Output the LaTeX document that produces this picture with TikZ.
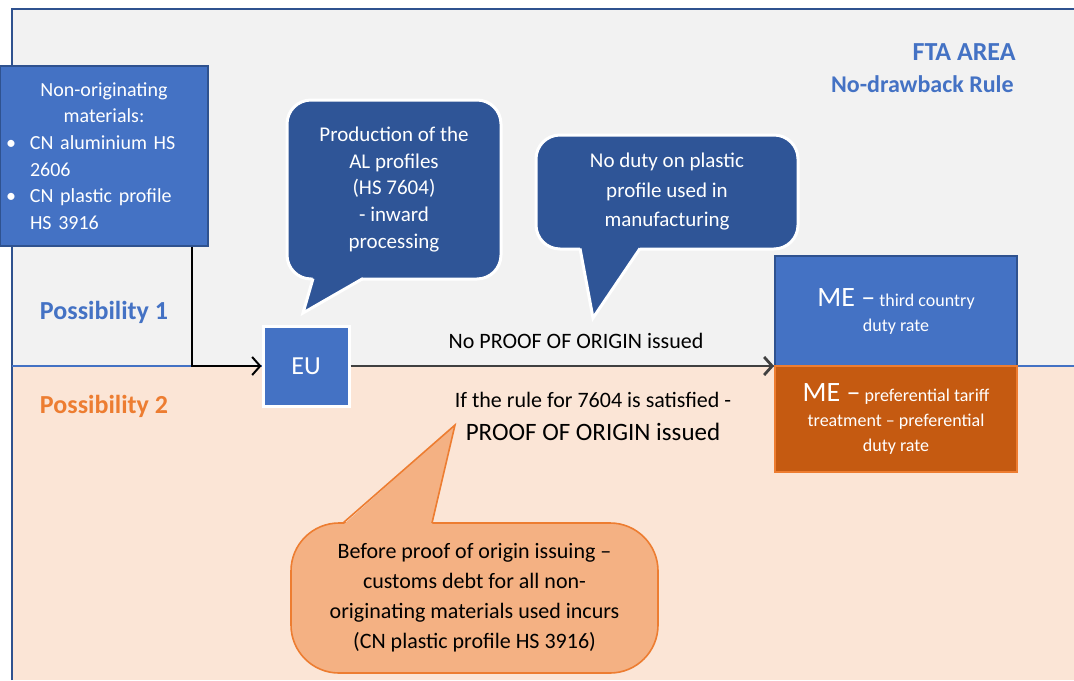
\documentclass[tikz,border=0pt]{standalone}
\usepackage{fontspec}
\setmainfont{Carlito}
\usetikzlibrary{arrows.meta,positioning}
\definecolor{boxblue}{HTML}{4472C4}
\definecolor{bubblue}{HTML}{2F5597}
\definecolor{edgeblue}{HTML}{2F528F}
\definecolor{greyarea}{HTML}{F2F2F2}
\definecolor{peach}{HTML}{FBE5D6}
\definecolor{rust}{HTML}{C55A11}
\definecolor{salmon}{HTML}{F4B183}
\definecolor{orangeline}{HTML}{ED7D31}
\tikzset{
	bluebox/.style={draw=edgeblue,fill=boxblue,text=white,line width=0.8pt,inner sep=3pt},
	bubble/.style={rounded corners=12pt,fill=bubblue,draw=white,line width=1.5pt,text=white,align=center,font=\fontsize{10.5}{13.3}\selectfont},
	possib/.style={font=\fontsize{13}{15}\selectfont\bfseries},
	small/.style={font=\fontsize{9}{12.5}\selectfont},
}
\newcommand{\bigME}{{\fontsize{14}{15}\selectfont ME --}}
\begin{document}
\begin{tikzpicture}[x=0.5pt,y=-0.5pt,>={Straight Barb[length=4pt,width=9pt]}]
	\useasboundingbox (0,0) rectangle (1074,680);
	\fill[greyarea] (12,9) rectangle (1074,366);
	\fill[peach] (12,366) rectangle (1074,680);
	\draw[edgeblue,line width=0.8pt] (12,680) -- (12,9) -- (1074,9);
	\draw[boxblue,line width=0.8pt] (12,366) -- (1074,366);
	% titles
	\node[possib,text=boxblue,anchor=east,inner sep=0pt] (fta) at (1016,52) {FTA AREA};
	\node[possib,font=\fontsize{12}{14}\selectfont\bfseries,text=boxblue,anchor=east,inner sep=0pt] (nodraw) at (1014,84) {No-drawback Rule};
	\node[possib,text=boxblue] (pos1) at (104,312) {Possibility 1};
	\node[possib,text=orangeline] (pos2) at (104,406) {Possibility 2};
	% boxes
	\node[bluebox,minimum width=104pt,minimum height=90pt,text width=98pt,font=\fontsize{10}{13.3}\selectfont] (mat) at (104,156)
		{\centering Non-originating\\materials:\par\raggedright
		\makebox[12pt][l]{\textbullet}CN aluminium HS\\\hspace*{12pt}2606\\
		\makebox[12pt][l]{\textbullet}CN plastic profile\\\hspace*{12pt}HS 3916\par};
	\node[bluebox,draw=white,line width=1.5pt,minimum width=43pt,minimum height=40pt,font=\fontsize{13}{15}\selectfont] (eu) at (306,366) {EU};
	\node[bluebox,small,line width=1pt,align=center,minimum width=121pt,minimum height=55pt] (third) at (896,311) {\bigME{} third country\\duty rate};
	\node[bluebox,small,fill=rust,draw=orangeline,align=center,minimum width=121pt,minimum height=53pt] (pref) at (896,419)
		{\bigME{} preferential tariff\\treatment -- preferential\\duty rate};
	% bubbles
	\node[bubble,minimum width=107pt,minimum height=89.5pt] (prod) at (394,189.5) {Production of the\\AL profiles\\(HS 7604)\\- inward\\processing};
	\fill[bubblue] (313,277) -- (303,313) -- (363,277) -- cycle;
	\draw[white,line width=1.5pt] (313,278.5) -- (303,313) -- (363,278.5);
	\node[bubble,minimum width=131pt,minimum height=57pt,font=\fontsize{10.5}{14.75}\selectfont] (duty) at (667,192) {No duty on plastic\\profile used in\\manufacturing};
	\fill[bubblue] (580,247) -- (593,318) -- (640,247) -- cycle;
	\draw[white,line width=1.5pt] (580,248.5) -- (593,318) -- (640,248.5);
	\node[fill=salmon,draw=orangeline,line width=0.8pt,rounded corners=24pt,minimum width=183.5pt,minimum height=75pt,align=center,font=\fontsize{11}{15}\selectfont] (debt) at (474.5,598)
		{Before proof of origin issuing --\\customs debt for all non-\\originating materials used incurs\\(CN plastic profile HS 3916)};
	\fill[salmon] (343,525) -- (455,425) -- (432,525) -- cycle;
	\draw[orangeline,line width=0.8pt] (343,523) -- (455,425) -- (432,523);
	% arrows
	\coordinate (bend) at (192,366);
	\draw[->,line width=1pt] (mat.south -| bend) -- (bend) -- (eu.west);
	\draw[->,line width=1.4pt,black!75] (eu.east) -- (eu.east -| third.west);
	\node[font=\fontsize{11}{13}\selectfont] (nopo) at (576,341) {No PROOF OF ORIGIN issued};
	\node[font=\fontsize{11}{13}\selectfont] (ifrule) at (593,400) {If the rule for 7604 is satisfied -};
	\node[font=\fontsize{12.5}{14}\selectfont] (po) at (593,432) {PROOF OF ORIGIN issued};
\end{tikzpicture}
\end{document}
